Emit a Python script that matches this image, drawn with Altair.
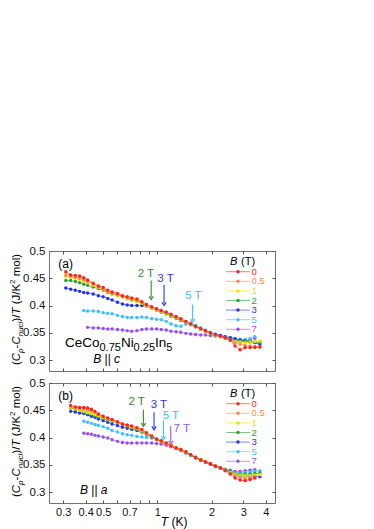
import altair as alt
import pandas as pd

# ---------------- data ----------------
B_FIELDS = ['0', '0.5', '1', '2', '3', '5', '7']
B_COLORS = ['#ff2020', '#ff8c3c', '#e6e600', '#2ca02c', '#2233ee', '#40c0ff', '#9650f0']

# panel (a): B || c
TA = [0.31, 0.33, 0.35, 0.37, 0.39, 0.41, 0.44, 0.47, 0.50, 0.53, 0.56, 0.60, 0.64, 0.68,
      0.72, 0.77, 0.82, 0.87, 0.93, 0.99, 1.05, 1.12, 1.19, 1.27, 1.35, 1.44, 1.53, 1.63,
      1.74, 1.85, 1.97, 2.10, 2.24, 2.38, 2.54, 2.70, 2.88, 3.07, 3.27, 3.48, 3.71]
A_0 = [0.462, 0.456, 0.455, 0.454, 0.451, 0.447, 0.441, 0.436, 0.433, 0.428, 0.425, 0.422, 0.418, 0.416,
       0.414, 0.412, 0.407, 0.402, 0.398, 0.394, 0.391, 0.388, 0.384, 0.380, 0.376, 0.371, 0.366, 0.362,
       0.358, 0.354, 0.350, 0.347, 0.344, 0.341, 0.337, 0.326, 0.319, 0.323, 0.323, 0.323, 0.324]
A_05 = [0.456, 0.454, 0.452, 0.450, 0.447, 0.444, 0.439, 0.434, 0.430, 0.426, 0.423, 0.420, 0.417, 0.414,
        0.412, 0.409, 0.405, 0.400, 0.396, 0.393, 0.390, 0.387, 0.383, 0.379, 0.375, 0.370, 0.366, 0.361,
        0.357, 0.353, 0.350, 0.346, 0.343, 0.340, 0.336, 0.332, 0.329, 0.327, 0.326, 0.325, 0.324]
A_1 = [0.453, 0.452, 0.450, 0.448, 0.445, 0.442, 0.437, 0.433, 0.429, 0.425, 0.422, 0.419, 0.416, 0.413,
       0.411, 0.408, 0.404, 0.399, 0.395, 0.392, 0.389, 0.386, 0.382, 0.378, 0.374, 0.369, 0.365, 0.361,
       0.357, 0.353, 0.350, 0.346, 0.343, 0.340, 0.337, 0.334, 0.333, 0.332, 0.333, 0.334, 0.335]
A_2 = [0.446, 0.446, 0.444, 0.442, 0.439, 0.437, 0.434, 0.431, 0.428, 0.424, 0.421, 0.419, 0.416, 0.413,
       0.410, 0.408, 0.404, 0.399, 0.395, 0.392, 0.389, 0.385, 0.381, 0.377, 0.373, 0.369, 0.365, 0.361,
       0.357, 0.353, 0.349, 0.346, 0.343, 0.340, 0.337, 0.335, 0.334, 0.334, 0.333, 0.333, 0.333]
A_3 = [0.432, 0.430, 0.428, 0.426, 0.424, 0.423, 0.421, 0.418, 0.416, 0.413, 0.410, 0.406, 0.403, 0.401,
       0.400, 0.400, 0.400, 0.399, 0.396, 0.392, 0.388, 0.385, 0.381, 0.377, 0.373, 0.369, 0.365, 0.361,
       0.357, 0.353, 0.350, 0.347, 0.345, 0.343, 0.341, 0.339, 0.337, 0.335, 0.334, 0.332, 0.329]
A_5 = [None, None, None, None, 0.391, 0.390, 0.390, 0.389, 0.387, 0.386, 0.385, 0.382, 0.380, 0.378,
       0.378, 0.378, 0.379, 0.378, 0.376, 0.375, 0.374, 0.371, 0.366, 0.363, 0.362, 0.366, 0.368, 0.364,
       0.359, 0.355, 0.351, 0.348, 0.345, 0.343, 0.341, 0.339, 0.338, 0.338, 0.339, 0.343, None]
A_7 = [None, None, None, None, None, 0.360, 0.359, 0.359, 0.358, 0.357, 0.357, 0.356, 0.355, 0.354,
       0.353, 0.354, 0.356, 0.357, 0.357, 0.357, 0.356, 0.355, 0.353, 0.352, 0.351, 0.349, 0.348, 0.347,
       0.346, 0.346, 0.345, 0.344, 0.343, 0.341, 0.339, 0.337, 0.336, 0.336, 0.337, 0.340, None]

# panel (b): B || a
TB = [0.33, 0.35, 0.37, 0.39, 0.41, 0.43, 0.45, 0.47, 0.50, 0.53, 0.56, 0.60, 0.64, 0.68,
      0.72, 0.77, 0.82, 0.87, 0.93, 0.99, 1.05, 1.12, 1.19, 1.27, 1.35, 1.44, 1.53, 1.63,
      1.74, 1.85, 1.97, 2.10, 2.24, 2.38, 2.54, 2.70, 2.88, 3.07, 3.27, 3.48, 3.71]
B_0 = [0.459, 0.456, 0.455, 0.455, 0.454, 0.452, 0.448, 0.443, 0.439, 0.436, 0.433, 0.429, 0.425, 0.423,
       0.421, 0.418, 0.415, 0.409, 0.403, 0.397, 0.394, 0.390, 0.385, 0.381, 0.378, 0.374, 0.369, 0.364,
       0.359, 0.355, 0.352, 0.348, 0.344, 0.339, 0.333, 0.326, 0.322, 0.321, 0.323, 0.326, None]
B_05 = [0.456, 0.455, 0.453, 0.452, 0.451, 0.449, 0.446, 0.442, 0.438, 0.435, 0.432, 0.428, 0.425, 0.422,
        0.420, 0.417, 0.413, 0.408, 0.402, 0.397, 0.393, 0.389, 0.385, 0.381, 0.378, 0.373, 0.368, 0.364,
        0.359, 0.355, 0.352, 0.348, 0.344, 0.340, 0.335, 0.330, 0.327, 0.325, 0.326, 0.328, None]
B_1 = [0.455, 0.453, 0.450, 0.448, 0.446, 0.444, 0.442, 0.440, 0.437, 0.434, 0.431, 0.428, 0.425, 0.422,
       0.419, 0.416, 0.412, 0.407, 0.402, 0.397, 0.393, 0.389, 0.385, 0.381, 0.377, 0.373, 0.368, 0.364,
       0.359, 0.355, 0.352, 0.348, 0.344, 0.340, 0.336, 0.333, 0.331, 0.330, 0.330, 0.331, 0.332]
B_2 = [0.454, 0.452, 0.450, 0.447, 0.445, 0.443, 0.440, 0.438, 0.435, 0.432, 0.430, 0.427, 0.424, 0.421,
       0.418, 0.415, 0.411, 0.406, 0.401, 0.397, 0.393, 0.389, 0.385, 0.381, 0.377, 0.372, 0.368, 0.363,
       0.359, 0.355, 0.351, 0.347, 0.344, 0.341, 0.338, 0.335, 0.333, 0.333, 0.333, 0.334, 0.335]
B_3 = [0.448, 0.447, 0.445, 0.444, 0.442, 0.439, 0.437, 0.434, 0.431, 0.428, 0.425, 0.422, 0.419, 0.417,
       0.415, 0.413, 0.410, 0.406, 0.401, 0.397, 0.393, 0.389, 0.385, 0.381, 0.377, 0.372, 0.367, 0.363,
       0.359, 0.355, 0.351, 0.347, 0.344, 0.341, 0.337, 0.333, 0.330, 0.329, 0.329, 0.329, 0.328]
B_5 = [None, None, None, 0.430, 0.428, 0.426, 0.424, 0.422, 0.420, 0.417, 0.413, 0.410, 0.407, 0.405,
       0.404, 0.402, 0.401, 0.400, 0.399, 0.397, 0.393, 0.388, 0.384, 0.380, 0.377, 0.372, 0.368, 0.363,
       0.359, 0.355, 0.351, 0.347, 0.344, 0.341, 0.338, 0.336, 0.335, 0.336, 0.337, 0.338, 0.339]
B_7 = [None, None, None, 0.408, 0.407, 0.406, 0.404, 0.403, 0.401, 0.399, 0.396, 0.393, 0.391, 0.390,
       0.390, 0.390, 0.390, 0.390, 0.390, 0.389, 0.388, 0.386, 0.383, 0.380, 0.376, 0.372, 0.368, 0.363,
       0.359, 0.355, 0.351, 0.348, 0.345, 0.342, 0.340, 0.338, 0.338, 0.339, 0.340, 0.341, None]

# arrows: field labels, position (T), tail and head values, label position
ARR_A_TEXT = ['2 T', '3 T', '5 T']
ARR_A_COLOR = ['#2e8b2e', '#2a3ae6', '#40bff0']
ARR_A_T = [0.923, 1.089, 1.57]
ARR_A_TAIL = [0.446, 0.438, 0.402]
ARR_A_HEAD = [0.414, 0.403, 0.373]
ARR_A_LT = [0.863, 1.11, 1.585]
ARR_A_LY = [0.4573, 0.448, 0.4175]

ARR_B_TEXT = ['2 T', '3 T', '5 T', '7 T']
ARR_B_COLOR = ['#2e8b2e', '#2a3ae6', '#40bff0', '#9a55f0']
ARR_B_T = [0.836, 0.958, 1.08, 1.186]
ARR_B_TAIL = [0.451, 0.4463, 0.4316, 0.4206]
ARR_B_HEAD = [0.4236, 0.4175, 0.3995, 0.391]
ARR_B_LT = [0.767, 1.019, 1.188, 1.365]
ARR_B_LY = [0.4646, 0.4602, 0.439, 0.4157]

XTICKS = [0.3, 0.4, 0.5, 0.6, 0.7, 0.8, 0.9, 1, 2, 3, 4]
YTICKS = [0.3, 0.35, 0.4, 0.45, 0.5]

# ---------------- chart ----------------
W, H = 226, 120
XS = dict(type='log', domain=[0.25, 4.5], nice=False)
YS = dict(domain=[0.28, 0.5], nice=False, zero=False)
FRAME = '#707070'
TICK = '#505050'
ARROW_PATH = "M-0.7,-0.5L0,0.6L0.7,-0.5"
YB = -29.5  # baseline of the rotated y title (px, relative to plot)

hide_expr = "(datum.value == 0.6 || datum.value == 0.8 || datum.value == 0.9) ? '' : datum.label"


def ptext(rows, size, style='normal', angle=0, align='left', baseline='middle', color='black'):
    df = pd.DataFrame(rows, columns=['t', 'px', 'py'])
    return alt.Chart(df).mark_text(
        fontSize=size, fontStyle=style, angle=angle, align=align, baseline=baseline, color=color
    ).encode(
        x=alt.X('px:Q', scale=None, axis=None),
        y=alt.Y('py:Q', scale=None, axis=None),
        text='t:N',
    )


def legend_layers():
    # legend box: line + dot + coloured label, one row per field value
    rows = []
    for i, (lab, col) in enumerate(zip(B_FIELDS, B_COLORS)):
        rows.append({'lab': lab, 'col': col, 'x0': 177, 'x1': 201, 'xm': 189, 'xl': 202.5,
                     'y': 20.7 + 9.6 * i})
    ldf = pd.DataFrame(rows)
    line = alt.Chart(ldf).mark_rule(strokeWidth=1, opacity=0.6).encode(
        x=alt.X('x0:Q', scale=None, axis=None), x2='x1:Q',
        y=alt.Y('y:Q', scale=None, axis=None),
        color=alt.Color('col:N', scale=None))
    dot = alt.Chart(ldf).mark_circle(size=12, opacity=1).encode(
        x=alt.X('xm:Q', scale=None, axis=None),
        y=alt.Y('y:Q', scale=None, axis=None),
        color=alt.Color('col:N', scale=None))
    lab = alt.Chart(ldf).mark_text(fontSize=9.5, align='left', baseline='middle').encode(
        x=alt.X('xl:Q', scale=None, axis=None),
        y=alt.Y('y:Q', scale=None, axis=None),
        text='lab:N',
        color=alt.Color('col:N', scale=None))
    return [line, dot, lab]


def panel(T, series, arr, letter, dir_letter, bottom, ceco):
    rows = []
    for lab in reversed(B_FIELDS):
        for t, v in zip(T, series[lab]):
            if v is not None:
                rows.append({'T': t, 'C': v, 'B': lab})
    df = pd.DataFrame(rows)
    cscale = alt.Scale(domain=B_FIELDS, range=B_COLORS)

    lines = alt.Chart(df).mark_line(strokeWidth=1, opacity=0.65).encode(
        x=alt.X('T:Q', scale=alt.Scale(**XS), axis=alt.Axis(
            orient='bottom', values=XTICKS, labels=bottom, labelExpr=hide_expr, format='~g',
            offset=-3, tickSize=3, domain=False, grid=False, title=None, labelPadding=3,
            labelFontSize=11, labelFlush=False, labelOverlap=False, tickColor=TICK)),
        y=alt.Y('C:Q', scale=alt.Scale(**YS), axis=alt.Axis(
            orient='left', values=YTICKS, format='.2~f', offset=-3, tickSize=3, domain=False,
            grid=False, title=None, labelPadding=4, labelFontSize=11.5, labelFlush=False,
            tickColor=TICK)),
        color=alt.Color('B:N', scale=cscale, legend=None),
    )
    pts = alt.Chart(df).mark_circle(size=12, opacity=1).encode(
        x=alt.X('T:Q', scale=alt.Scale(**XS), axis=alt.Axis(
            orient='top', values=XTICKS, labels=False, offset=-3, tickSize=3, domain=False,
            grid=False, title=None, tickColor=TICK)),
        y=alt.Y('C:Q', scale=alt.Scale(**YS), axis=alt.Axis(
            orient='right', values=YTICKS, labels=False, offset=-3, tickSize=3, domain=False,
            grid=False, title=None, tickColor=TICK)),
        color=alt.Color('B:N', scale=cscale, legend=None),
    )

    text, colors, at, tail, head, lt, ly = arr
    adf = pd.DataFrame({'txt': text, 'col': colors, 'T': at, 'tail': tail, 'head': head,
                        'LT': lt, 'LY': ly})
    rule = alt.Chart(adf).mark_rule(strokeWidth=1.1).encode(
        x=alt.X('T:Q', scale=alt.Scale(**XS), axis=None),
        y=alt.Y('tail:Q', scale=alt.Scale(**YS), axis=None),
        y2='head:Q',
        color=alt.Color('col:N', scale=None),
    )
    ahead = alt.Chart(adf).mark_point(shape=ARROW_PATH, size=40, filled=False, strokeWidth=1.1,
                                      opacity=1).encode(
        x=alt.X('T:Q', scale=alt.Scale(**XS), axis=None),
        y=alt.Y('head:Q', scale=alt.Scale(**YS), axis=None),
        color=alt.Color('col:N', scale=None),
    )
    alab = alt.Chart(adf).mark_text(fontSize=11.5, align='center', baseline='middle').encode(
        x=alt.X('LT:Q', scale=alt.Scale(**XS), axis=None),
        y=alt.Y('LY:Q', scale=alt.Scale(**YS), axis=None),
        text='txt:N',
        color=alt.Color('col:N', scale=None),
    )

    # y title: (C_p - C_nucl)/T (J/K^2 mol)
    yt_norm = ptext([('(', YB, 114), ('-', YB, 97.4), (')/', YB, 70.6), ('(J/K', YB, 53.3),
                     ('mol)', YB, 25.3)], 11.5, angle=270, baseline='alphabetic')
    yt_ital = ptext([('C', YB, 110.2), ('C', YB, 93.6), ('T', YB, 63.6)], 11.5, style='italic',
                    angle=270, baseline='alphabetic')
    yt_sub = ptext([('p', YB + 3, 101.9), ('nucl', YB + 3, 85.3)], 8, style='italic', angle=270,
                   baseline='alphabetic')
    yt_sup = ptext([('2', YB - 4.5, 32.9)], 8, angle=270, baseline='alphabetic')

    layers = [lines, pts, rule, ahead, alab, yt_norm, yt_ital, yt_sub, yt_sup]
    layers += legend_layers()

    # panel letter, legend header, field direction
    layers.append(ptext([(letter, 9.3, 13)], 12))
    layers.append(ptext([('B', 181, 10.5)], 11, style='italic'))
    layers.append(ptext([('(T)', 192, 10.5)], 11))
    bx, by = dir_letter[1], dir_letter[2]
    layers.append(ptext([('B', bx, by), (dir_letter[0], bx + 20.8, by)], 12, style='italic'))
    layers.append(ptext([('||', bx + 11.3, by)], 12))

    if ceco:
        layers.append(ptext([('CeCo', 16, 96), ('Ni', 71.9, 96), ('In', 106, 96)], 13.5,
                            baseline='alphabetic'))
        layers.append(ptext([('0.75', 50.5, 100), ('0.25', 84.6, 100), ('5', 117.3, 100)], 11,
                            baseline='alphabetic'))
    if bottom:
        layers.append(ptext([('T', 111.8, 139)], 12, style='italic'))
        layers.append(ptext([('(K)', 122.4, 139)], 12))

    return alt.layer(*layers).resolve_axis(x='independent', y='independent').properties(
        width=W, height=H)


SER_A = {'0': A_0, '0.5': A_05, '1': A_1, '2': A_2, '3': A_3, '5': A_5, '7': A_7}
SER_B = {'0': B_0, '0.5': B_05, '1': B_1, '2': B_2, '3': B_3, '5': B_5, '7': B_7}

pa = panel(TA, SER_A, (ARR_A_TEXT, ARR_A_COLOR, ARR_A_T, ARR_A_TAIL, ARR_A_HEAD, ARR_A_LT, ARR_A_LY),
           '(a)', ('c', 44.3, 108.3), False, True)
pb = panel(TB, SER_B, (ARR_B_TEXT, ARR_B_COLOR, ARR_B_T, ARR_B_TAIL, ARR_B_HEAD, ARR_B_LT, ARR_B_LY),
           '(b)', ('a', 31, 106.7), True, False)

chart = alt.vconcat(pa, pb, spacing=4).properties(
    padding={'left': 0, 'top': 236, 'right': 4, 'bottom': 0}
).configure(font='Liberation Sans').configure_view(stroke=FRAME, strokeWidth=1).configure_axis(
    labelColor='#111111', labelFont='Liberation Sans')

chart.save("out.html", embed_options={"renderer": "svg", "actions": False})
